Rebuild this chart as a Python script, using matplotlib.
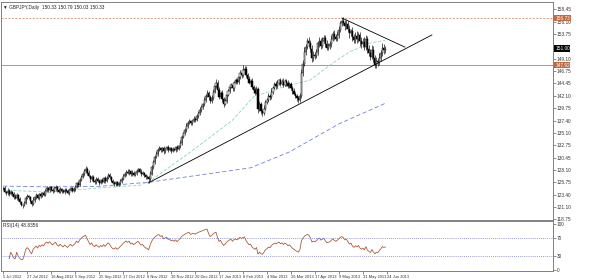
#!/usr/bin/env python3

from matplotlib import pyplot as plt
import numpy as np
import pandas as pd

plt.rcParams['font.family'] = ['Liberation Sans', 'DejaVu Sans']

# daily closes, 16 bars per date label
closes = [
    124.6, 124.0, 123.7, 124.2, 123.5, 123.9, 123.6, 123.0, 122.8, 123.4, 122.6, 122.0, 121.5, 121.4, 121.9, 122.8,
    123.2, 122.9, 122.2, 121.6, 122.5, 122.9, 123.3, 122.8, 123.5, 123.2, 123.7, 123.4, 124.2, 124.6, 124.3, 124.8,
    124.4, 124.1, 124.6, 124.9, 124.3, 124.0, 124.5, 124.2, 123.9, 124.4, 124.1, 123.8, 124.3, 124.6, 124.2, 124.5,
    124.9, 125.6, 125.3, 126.2, 126.8, 127.4, 127.9, 128.3, 127.6, 127.0, 126.3, 126.8, 126.1, 125.8, 126.4, 126.0,
    125.7, 126.2, 125.9, 126.5, 126.0, 126.6, 127.2, 126.8, 126.1, 125.6, 125.4, 125.8, 125.3, 125.6, 126.0, 126.4,
    127.0, 127.4, 127.8, 127.5, 127.9, 127.3, 127.6, 127.2, 127.5, 127.9, 128.2, 127.8, 127.4, 127.6, 127.1, 126.8,
    126.7, 126.3, 127.4, 128.6, 129.6, 130.5, 131.2, 131.9, 132.2, 131.8, 132.3, 131.6, 132.0, 132.4, 131.9, 132.2,
    131.7, 132.1, 131.8, 132.4, 132.0, 132.6, 133.2, 134.3, 135.0, 135.6, 136.4, 137.0, 137.3, 136.9, 137.4, 137.8,
    137.6, 138.2, 138.9, 139.4, 139.9, 140.5, 141.3, 142.1, 142.7, 141.8, 141.1, 141.6, 142.9, 144.0, 144.6, 143.2,
    141.9, 142.6, 141.5, 140.6, 141.2, 142.3, 143.1, 143.8, 144.2, 143.5, 144.6, 145.0, 144.7, 145.6, 146.4, 146.0,
    146.9, 147.2, 146.1, 145.3, 144.6, 144.9, 143.8, 143.2, 142.7, 143.4, 139.6, 140.5, 139.2, 138.8, 139.7, 140.9,
    141.3, 142.1, 141.8, 142.9, 143.6, 144.3, 143.9, 144.6, 145.0, 144.4, 144.8, 144.2, 144.9, 144.5, 143.9, 144.3,
    143.6, 143.0, 142.5, 142.0, 141.6, 141.3, 142.1, 146.4, 148.2, 150.4, 151.3, 152.4, 152.1, 151.0, 149.2, 149.8,
    149.6, 150.3, 152.0, 152.4, 151.6, 152.5, 153.0, 151.9, 151.2, 151.5, 151.8, 152.9, 153.8, 153.2, 152.9, 153.6,
    154.6, 155.8, 156.3, 155.9, 155.2, 155.6, 154.8, 153.9, 154.3, 153.2, 152.6, 153.4, 152.8, 153.5, 152.4, 151.8,
    152.3, 151.4, 152.8, 151.0, 150.2, 149.5, 150.8, 149.2, 147.9, 148.6, 148.4, 149.3, 150.1, 151.2, 150.7, 151.0,
]
wick_up = [
    0.3, 0.4, 0.2, 0.5, 0.3, 0.4, 0.2, 0.3, 0.5, 0.3, 0.2, 0.4, 0.3, 0.2, 0.4, 0.3,
    0.4, 0.2, 0.3, 0.3, 0.5, 0.2, 0.4, 0.3, 0.3, 0.4, 0.2, 0.5, 0.3, 0.4, 0.2, 0.3,
    0.3, 0.2, 0.4, 0.3, 0.2, 0.3, 0.4, 0.2, 0.3, 0.2, 0.3, 0.4, 0.2, 0.3, 0.2, 0.3,
    0.4, 0.3, 0.5, 0.3, 0.4, 0.3, 0.4, 0.5, 0.3, 0.4, 0.2, 0.3, 0.4, 0.2, 0.3, 0.4,
    0.3, 0.2, 0.4, 0.3, 0.5, 0.3, 0.4, 0.3, 0.2, 0.3, 0.4, 0.2, 0.3, 0.2, 0.3, 0.4,
    0.3, 0.4, 0.3, 0.5, 0.3, 0.2, 0.4, 0.3, 0.3, 0.4, 0.3, 0.2, 0.4, 0.3, 0.2, 0.3,
    0.4, 0.3, 0.5, 0.4, 0.3, 0.5, 0.4, 0.3, 0.4, 0.3, 0.2, 0.4, 0.3, 0.3, 0.4, 0.2,
    0.3, 0.4, 0.2, 0.3, 0.4, 0.3, 0.5, 0.4, 0.3, 0.4, 0.5, 0.3, 0.4, 0.3, 0.2, 0.4,
    0.3, 0.4, 0.3, 0.5, 0.4, 0.3, 0.6, 0.4, 0.5, 0.3, 0.4, 0.6, 0.4, 0.5, 0.6, 0.4,
    0.5, 0.4, 0.6, 0.3, 0.5, 0.4, 0.3, 0.5, 0.4, 0.6, 0.3, 0.5, 0.4, 0.6, 0.5, 0.4,
    1.0, 0.6, 0.5, 0.4, 0.6, 0.3, 0.5, 0.4, 0.6, 0.5, 0.4, 0.6, 0.5, 0.4, 0.6, 0.5,
    0.4, 0.5, 0.3, 0.6, 0.4, 0.5, 0.6, 0.4, 0.3, 0.5, 0.4, 0.6, 0.3, 0.4, 0.5, 0.4,
    0.5, 0.4, 0.6, 0.3, 0.5, 0.4, 0.6, 0.8, 0.7, 0.9, 0.6, 0.7, 0.8, 0.6, 0.7, 0.8,
    0.6, 0.7, 0.5, 0.8, 0.6, 0.7, 0.5, 0.6, 0.8, 0.5, 0.6, 0.7, 0.5, 0.8, 0.6, 0.7,
    0.6, 0.5, 0.5, 0.7, 0.6, 0.8, 0.6, 0.7, 0.5, 0.8, 0.6, 0.7, 0.9, 0.6, 0.7, 0.8,
    0.7, 0.9, 0.8, 0.6, 0.7, 0.8, 0.9, 0.7, 0.6, 0.8, 0.7, 0.9, 0.6, 0.8, 0.7, 0.6,
]
wick_dn = [
    0.3, 0.2, 0.4, 0.3, 0.3, 0.2, 0.4, 0.3, 0.2, 0.3, 0.4, 0.3, 0.3, 0.4, 0.2, 0.3,
    0.2, 0.3, 0.4, 0.3, 0.2, 0.4, 0.3, 0.2, 0.3, 0.4, 0.3, 0.2, 0.3, 0.2, 0.4, 0.3,
    0.2, 0.3, 0.2, 0.4, 0.3, 0.2, 0.3, 0.4, 0.2, 0.3, 0.2, 0.3, 0.4, 0.2, 0.3, 0.2,
    0.3, 0.2, 0.4, 0.3, 0.2, 0.3, 0.4, 0.3, 0.5, 0.3, 0.4, 0.3, 0.2, 0.4, 0.3, 0.2,
    0.4, 0.3, 0.2, 0.3, 0.4, 0.2, 0.3, 0.4, 0.3, 0.2, 0.3, 0.4, 0.2, 0.3, 0.4, 0.3,
    0.2, 0.3, 0.4, 0.2, 0.3, 0.4, 0.3, 0.2, 0.3, 0.4, 0.2, 0.3, 0.4, 0.3, 0.3, 0.4,
    0.3, 0.7, 0.3, 0.2, 0.4, 0.3, 0.2, 0.4, 0.3, 0.4, 0.3, 0.5, 0.3, 0.2, 0.4, 0.3,
    0.4, 0.3, 0.2, 0.4, 0.3, 0.2, 0.4, 0.3, 0.2, 0.3, 0.4, 0.3, 0.2, 0.4, 0.3, 0.2,
    0.4, 0.3, 0.2, 0.4, 0.3, 0.2, 0.3, 0.4, 0.3, 0.5, 0.4, 0.3, 0.2, 0.3, 0.4, 0.5,
    0.4, 0.3, 0.5, 0.6, 0.3, 0.4, 0.3, 0.4, 0.3, 0.5, 0.4, 0.3, 0.4, 0.3, 0.4, 0.5,
    0.3, 0.4, 0.5, 0.4, 0.3, 0.5, 0.4, 0.5, 0.4, 0.3, 0.7, 0.4, 0.6, 0.6, 0.4, 0.3,
    0.4, 0.3, 0.5, 0.3, 0.4, 0.3, 0.5, 0.3, 0.4, 0.5, 0.3, 0.4, 0.3, 0.5, 0.4, 0.3,
    0.4, 0.5, 0.3, 0.4, 0.5, 0.6, 0.4, 0.5, 0.6, 0.5, 0.6, 0.4, 0.7, 0.6, 0.8, 0.5,
    0.6, 0.4, 0.5, 0.6, 0.7, 0.4, 0.5, 0.6, 0.5, 0.4, 0.6, 0.5, 0.4, 0.6, 0.5, 0.4,
    0.5, 0.4, 0.6, 0.5, 0.7, 0.4, 0.6, 0.8, 0.5, 0.7, 0.6, 0.5, 0.7, 0.6, 0.8, 0.6,
    0.5, 0.7, 0.6, 0.8, 0.6, 0.7, 0.5, 0.8, 0.5, 0.6, 0.7, 0.5, 0.6, 0.5, 0.7, 0.6,
]

# moving averages at a few bars
ma_slow_x = [0, 31, 64, 98, 125, 165, 191, 224, 255]
ma_slow_y = [125.05, 124.9, 125.0, 125.8, 126.9, 128.5, 131.5, 136.8, 140.7]
ma_fast_x = [0, 31, 64, 91, 98, 125, 153, 167, 185, 205, 218, 231, 245, 255]
ma_fast_y = [124.3, 123.9, 124.7, 125.2, 126.0, 131.5, 137.5, 141.9, 143.6, 145.1, 147.9, 150.4, 152.1, 152.6]

# hand drawn lines (bar index, price)
trend_up = ([96.7, 286], [125.63, 153.6])
trend_down = ([226, 268], [156.8, 151.3])
level_top = 156.8
level_mid = 147.9

price_ticks = [118.75, 121.10, 123.40, 125.75, 128.10, 130.45, 132.75, 135.10, 137.40,
               139.75, 142.10, 144.45, 146.75, 149.10, 153.75, 156.10, 158.45]
date_labels = ["5 Jul 2012", "27 Jul 2012", "16 Aug 2012", "5 Sep 2012", "25 Sep 2012",
               "17 Oct 2012", "8 Nov 2012", "30 Nov 2012", "20 Dec 2012", "17 Jan 2013",
               "8 Feb 2013", "4 Mar 2013", "26 Mar 2013", "17 Apr 2013", "9 May 2013",
               "31 May 2013", "24 Jun 2013"]
title = "\u25bc GBPJPY,Daily  150.33 150.79 150.03 150.33"
rsi_title = "RSI(14) 48.8356"

close = np.array(closes)
opens = np.r_[close[0], close[:-1]]
highs = np.maximum(opens, close) + np.array(wick_up)
lows = np.minimum(opens, close) - np.array(wick_dn)
idx = np.arange(len(close))

delta = pd.Series(close).diff()
gain = delta.clip(lower=0).ewm(alpha=1 / 14, min_periods=4).mean()
loss = (-delta.clip(upper=0)).ewm(alpha=1 / 14, min_periods=4).mean()
rsi = 100 - 100 / (1 + gain / loss)

fig = plt.figure(figsize=(5.99, 2.80), dpi=100)
ax = fig.add_axes([0.002, 0.214, 0.921, 0.779])
ax2 = fig.add_axes([0.002, 0.032, 0.921, 0.179])

for a in (ax, ax2):
    for s in a.spines.values():
        s.set_color('#808080')
        s.set_linewidth(0.7)
    a.set_xlim(-1.3, 366.7)
    a.yaxis.tick_right()
    a.tick_params(axis='y', labelsize=3.4, length=2, width=0.4, pad=1, colors='#333333')

ax.set_ylim(118.63, 159.83)

# candles
ax.vlines(idx, lows, highs, color='black', linewidth=0.45, zorder=3)
up = close >= opens
ax.bar(idx[up], (close - opens)[up], bottom=opens[up], width=0.7, color='white',
       edgecolor='black', linewidth=0.35, zorder=4)
ax.bar(idx[~up], (opens - close)[~up], bottom=close[~up], width=0.7, color='black',
       edgecolor='black', linewidth=0.35, zorder=4)

ax.plot(ma_slow_x, ma_slow_y, color='#6f7fd6', linestyle=(0, (5, 3)), linewidth=0.6, zorder=2)
ax.plot(ma_fast_x, ma_fast_y, color='#8fd3c4', linestyle=(0, (4, 2)), linewidth=0.6, zorder=2)

ax.plot(*trend_up, color='black', linewidth=0.6, zorder=5)
ax.plot(*trend_down, color='black', linewidth=0.6, zorder=5)
ax.axhline(level_top, color='#c8805a', linestyle=(0, (3, 2)), linewidth=0.5, zorder=1)
ax.axhline(level_mid, color='#d9895e', linewidth=0.7, zorder=1)

ax.set_yticks(price_ticks)
ax.set_yticklabels(["%.2f" % t for t in price_ticks])
ax.set_xticks([])

box = dict(boxstyle='square,pad=0.15', linewidth=0)
ax.text(1.004, level_top, "156.73", transform=ax.get_yaxis_transform(), fontsize=3.4,
        color='white', va='center', ha='left', bbox=dict(box, facecolor='#c06a44'), zorder=10)
ax.text(1.004, level_mid, "147.92", transform=ax.get_yaxis_transform(), fontsize=3.4,
        color='white', va='center', ha='left', bbox=dict(box, facecolor='#c06a44'), zorder=10)
ax.text(1.004, close[-1], "%.2f" % close[-1], transform=ax.get_yaxis_transform(), fontsize=3.4,
        color='white', va='center', ha='left', bbox=dict(box, facecolor='black'), zorder=10)

ax.text(0.004, 0.988, title, transform=ax.transAxes, fontsize=3.4, va='top', ha='left', color='#222222')

# RSI panel
ax2.set_ylim(-2.2, 106.5)
ax2.plot(idx, rsi, color='#a0522d', linewidth=0.55)
ax2.axhline(70, color='#7777cc', linestyle=(0, (1, 1.5)), linewidth=0.6)
ax2.axhline(30, color='#7777cc', linestyle=(0, (1, 1.5)), linewidth=0.6)
ax2.set_yticks([0, 30, 70, 100])
ax2.set_yticklabels(["0", "30", "70", "100"])
ax2.text(0.004, 0.95, rsi_title, transform=ax2.transAxes, fontsize=3.4, va='top', ha='left', color='#222222')

ax2.set_xticks(np.arange(len(date_labels)) * 16)
ax2.set_xticklabels(date_labels, ha='left')
ax2.tick_params(axis='x', labelsize=2.9, length=2, width=0.4, pad=1, colors='#333333')

fig.savefig("out.png", dpi=100)
